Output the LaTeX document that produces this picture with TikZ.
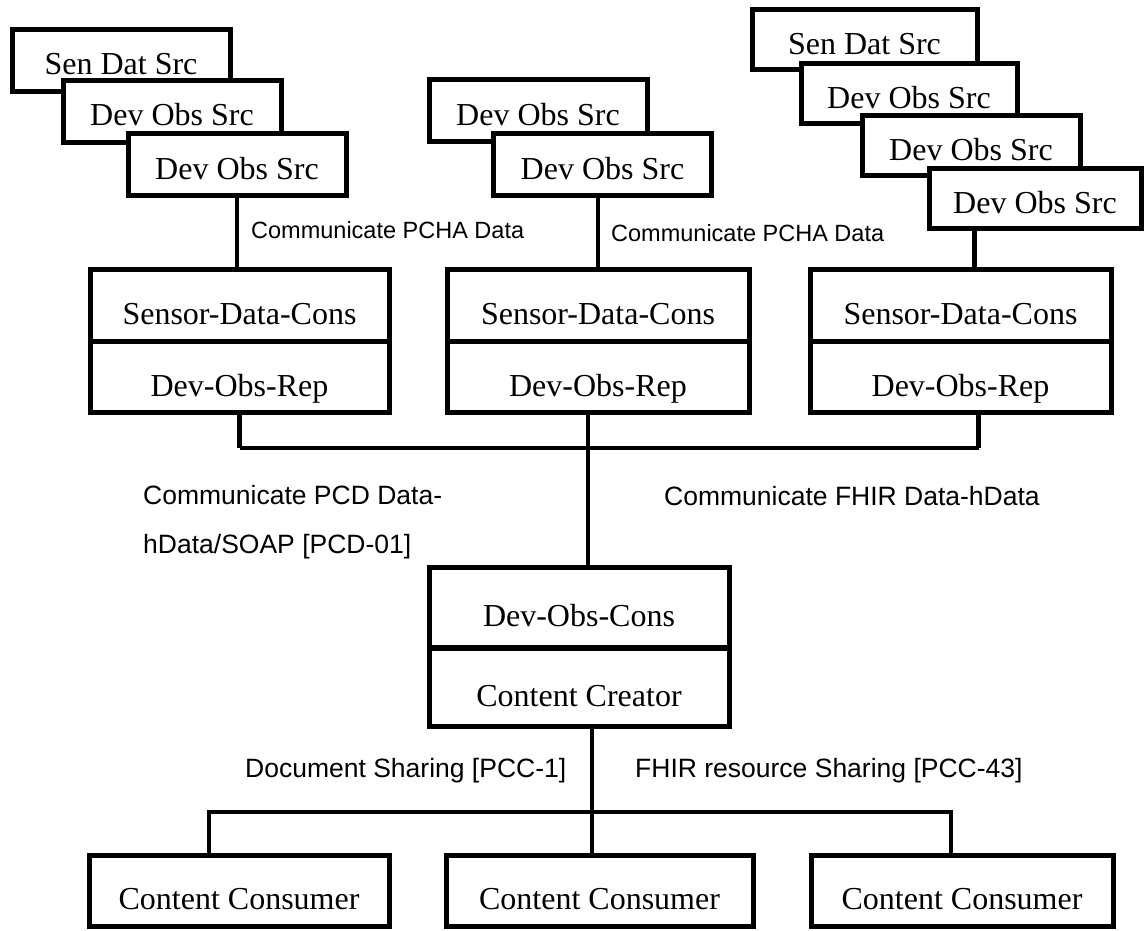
\documentclass[tikz,border=0pt]{standalone}
\usepackage{fontspec}
\setmainfont{Liberation Serif}
\newfontfamily\lblfont{Liberation Sans}
\begin{document}
\begin{tikzpicture}[x=1pt,y=-1pt,
	srcbox/.style={draw,fill=white,line width=5pt,minimum width=218pt,minimum height=62pt,inner sep=0pt,text height=29pt,text depth=0pt,font=\fontsize{32}{38}\selectfont},
	partbox/.style={draw,fill=white,line width=5pt,minimum width=300pt,minimum height=71.5pt,inner sep=0pt,text height=38pt,text depth=0pt,font=\fontsize{32}{38}\selectfont},
	link/.style={line width=4.5pt},
	buslink/.style={line width=3.5pt},
	lbl/.style={anchor=west,inner sep=0pt,align=left,font=\lblfont\fontsize{26.5}{49}\selectfont},
	lblsm/.style={anchor=west,inner sep=0pt,font=\lblfont\fontsize{23.5}{28}\selectfont}]
	\useasboundingbox (0,0) rectangle (1145,930);
	%left sources
	\node[srcbox] (ls1) at (121,60) {Sen Dat Src};
	\node[srcbox] (ls2) at (172,111) {Dev Obs Src};
	\node[srcbox] (ls3) at (237,164.5) {Dev Obs Src};
	%middle sources
	\node[srcbox] (ms1) at (538,110.5) {Dev Obs Src};
	\node[srcbox] (ms2) at (602.5,164.5) {Dev Obs Src};
	%right sources
	\node[srcbox,minimum width=225pt,minimum height=60pt] (rs1) at (864.5,39.5) {Sen Dat Src};
	\node[srcbox,minimum width=216pt,minimum height=60pt] (rs2) at (909,93.5) {Dev Obs Src};
	\node[srcbox,minimum height=60pt] (rs3) at (971,145.5) {Dev Obs Src};
	\node[srcbox,minimum width=212pt,minimum height=60pt] (rs4) at (1035,198.5) {Dev Obs Src};
	%sensor data consumers
	\node[partbox,minimum width=299pt] (sdc1) at (239.5,305.25) {Sensor-Data-Cons};
	\node[partbox,minimum width=299pt] (dor1) at (239.5,377) {Dev-Obs-Rep};
	\node[partbox,minimum width=302pt] (sdc2) at (598,305.25) {Sensor-Data-Cons};
	\node[partbox,minimum width=302pt] (dor2) at (598,377) {Dev-Obs-Rep};
	\node[partbox,minimum width=301pt] (sdc3) at (960.5,305.25) {Sensor-Data-Cons};
	\node[partbox,minimum width=301pt] (dor3) at (960.5,377) {Dev-Obs-Rep};
	%observation consumer
	\node[partbox,minimum height=80pt] (doc) at (579,607) {Dev-Obs-Cons};
	\node[partbox,minimum height=78pt] (cc) at (579,687) {Content Creator};
	%content consumers
	\node[partbox,minimum height=71pt] (con1) at (239,890.5) {Content Consumer};
	\node[partbox,minimum height=71pt,minimum width=307pt] (con2) at (599.5,890.5) {Content Consumer};
	\node[partbox,minimum height=71pt,minimum width=302pt] (con3) at (962,890.5) {Content Consumer};
	%source links
	\draw[link] (ls3.south) -- (ls3.south |- sdc1.north);
	\draw[link] (sdc2.north) -- (sdc2.north |- ms2.south);
	\draw[link] ([xshift=14pt]sdc3.north) -- ([xshift=14pt]sdc3.north |- rs4.south);
	%bus
	\coordinate (bus) at (588,448);
	\draw[link] (dor1.south) -- (dor1.south |- bus);
	\draw[link] ([xshift=18pt]dor3.south) -- ([xshift=18pt]dor3.south |- bus);
	\draw[buslink] (dor1.south |- bus) -- ([xshift=18pt]dor3.south |- bus);
	\draw[link] ([xshift=-10pt]dor2.south) -- ([xshift=-10pt]dor2.south |- doc.north);
	%sharing
	\coordinate (fork) at (592,812);
	\draw[link] ([xshift=13pt]cc.south) -- ([xshift=13pt]cc.south |- con2.north);
	\draw[link] ([xshift=-30pt]con1.north) |- (fork) -| ([xshift=-11pt]con3.north);
	%text
	\node[lblsm] (pcha1) at (251,230) {Communicate PCHA Data};
	\node[lblsm] (pcha2) at (611,233) {Communicate PCHA Data};
	\node[lbl] (pcd) at (143,522.5) {Communicate PCD Data-\\hData/SOAP [PCD-01]};
	\node[lbl] (fhir) at (664,496) {Communicate FHIR Data-hData};
	\node[lbl] (docsh) at (245,771) {Document Sharing [PCC-1]};
	\node[lbl] (fhirsh) at (635,771) {FHIR resource Sharing [PCC-43]};
\end{tikzpicture}
\end{document}
